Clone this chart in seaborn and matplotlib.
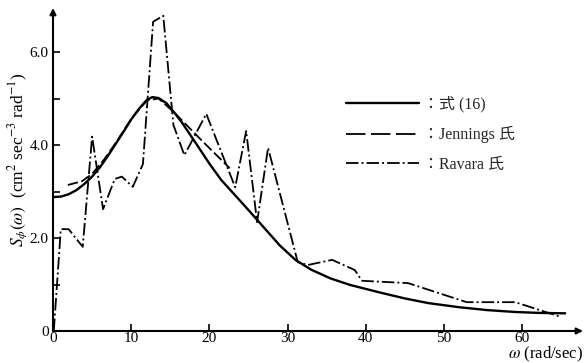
import matplotlib
matplotlib.use("Agg")
import matplotlib.pyplot as plt
from matplotlib.lines import Line2D
import seaborn as sns
import pandas as pd

# Eq. (16) spectrum
omega_eq16 = [0, 1, 2, 3, 4, 5, 6, 7, 8, 9, 10, 11, 12, 12.7, 13.5, 14.5, 15.5,
              16.5, 17.5, 18.5, 20, 21.5, 23.5, 25, 27, 29, 31, 33, 35.5, 38,
              42, 45, 48, 52, 55.5, 59, 62, 65.5]
s_eq16 = [2.88, 2.89, 2.94, 3.03, 3.16, 3.32, 3.52, 3.76, 4.02, 4.28, 4.55,
          4.78, 4.97, 5.03, 5.01, 4.90, 4.70, 4.48, 4.23, 3.98, 3.60, 3.25,
          2.88, 2.60, 2.22, 1.84, 1.53, 1.32, 1.13, 0.99, 0.82, 0.70, 0.60,
          0.51, 0.45, 0.41, 0.39, 0.38]

# Jennings
omega_jennings = [1.9, 3.7, 5.0, 6.5, 8.0, 10.0, 12.0, 13.5, 15.5, 19.0, 22.6]
s_jennings = [3.14, 3.22, 3.38, 3.68, 4.04, 4.56, 4.96, 5.00, 4.70, 4.10, 3.50]

# Ravara
omega_ravara = [0.1, 1.0, 2.0, 3.8, 5.0, 6.4, 7.9, 8.8, 10.2, 11.5, 12.8, 14.1,
                15.4, 16.8, 19.6, 23.3, 24.7, 26.1, 27.5, 31.3, 32.6, 35.7,
                38.6, 39.5, 45.4, 52.9, 59.1, 65.0]
s_ravara = [0.0, 2.19, 2.19, 1.81, 4.18, 2.62, 3.27, 3.32, 3.10, 3.59, 6.65,
            6.78, 4.43, 3.78, 4.67, 3.09, 4.30, 2.34, 3.94, 1.48, 1.42, 1.53,
            1.31, 1.08, 1.03, 0.62, 0.62, 0.30]

legend_labels = ["：式 (16)", "：Jennings 氏", "：Ravara 氏"]
x_ticks = [0, 10, 20, 30, 40, 50, 60]
x_tick_labels = ["0", "10", "20", "30", "40", "50", "60"]
y_ticks = [0, 1, 2, 3, 4, 5, 6]
y_tick_labels = ["0", "", "2.0", "", "4.0", "", "6.0"]

sns.set_theme(style="white")
plt.rcParams["font.family"] = ["Liberation Serif", "Noto Sans CJK JP"]
plt.rcParams["mathtext.fontset"] = "stix"
plt.rcParams["lines.scale_dashes"] = False

W, H = 586, 363
fig = plt.figure(figsize=(W / 100, H / 100), dpi=100)
ax = fig.add_axes([53 / W, 1 - 331 / H, 530 / W, 323 / H])

style_eq16 = dict(color="black", linewidth=1.7, linestyle="-")
style_jen = dict(color="black", linewidth=1.3, linestyle=(0, (7.5, 2.5)))
style_rav = dict(color="black", linewidth=1.3, linestyle=(0, (9, 2.2, 1.4, 2.2)))

df_eq16 = pd.DataFrame({"omega": omega_eq16, "S": s_eq16})
df_jen = pd.DataFrame({"omega": omega_jennings, "S": s_jennings})
df_rav = pd.DataFrame({"omega": omega_ravara, "S": s_ravara})

sns.lineplot(data=df_eq16, x="omega", y="S", ax=ax, **style_eq16)
sns.lineplot(data=df_jen, x="omega", y="S", ax=ax, **style_jen)
sns.lineplot(data=df_rav, x="omega", y="S", ax=ax, **style_rav)

ax.set_xlim(0, 530 / 7.82)
ax.set_ylim(0, 323 / 46.5)

for sp in ax.spines.values():
    sp.set_visible(False)

# axes drawn as arrows
ax.annotate("", xy=(1, 0), xytext=(0, 0), xycoords="axes fraction",
            arrowprops=dict(arrowstyle="-|>", color="black", lw=1.5,
                            mutation_scale=9, shrinkA=0, shrinkB=0))
ax.annotate("", xy=(0, 1), xytext=(0, 0), xycoords="axes fraction",
            arrowprops=dict(arrowstyle="-|>", color="black", lw=1.5,
                            mutation_scale=9, shrinkA=0, shrinkB=0))

ax.set_xticks(x_ticks)
ax.set_xticklabels(x_tick_labels)
ax.set_yticks(y_ticks)
ax.set_yticklabels(y_tick_labels)
ax.tick_params(axis="both", direction="in", length=5, width=1.2,
               color="black", labelsize=11, labelcolor="black", pad=3,
               bottom=True, left=True)
ax.tick_params(axis="x", pad=1)

ax.set_xlabel("")
ax.set_ylabel(r"$S_{\phi}(\omega)$  (cm$^2$ sec$^{-3}$ rad$^{-1}$)",
              fontsize=12.5, color="black")
ax.yaxis.set_label_coords(-0.043, 0.53)

fig.text(583 / W, 1 - 354 / H, r"$\omega$ (rad/sec)", ha="right", va="center",
         fontsize=12, color="black")

handles = [Line2D([], [], **style_eq16),
           Line2D([], [], color="black", linewidth=1.3, linestyle=(0, (14, 4))),
           Line2D([], [], **style_rav)]
ax.legend(handles, legend_labels, loc="upper left",
          bbox_to_anchor=(346 / W, 1 - 96 / H), bbox_transform=fig.transFigure,
          frameon=False, fontsize=11.5, handlelength=4.6, handletextpad=0.2,
          labelspacing=0.85, borderpad=0, borderaxespad=0)

fig.savefig("out.png", dpi=100)
